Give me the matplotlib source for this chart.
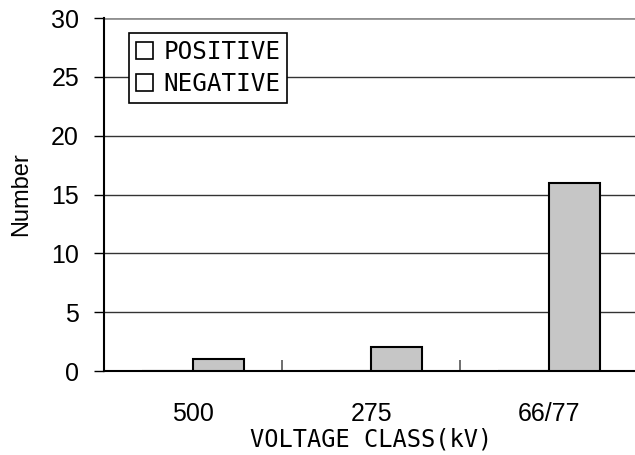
import matplotlib
matplotlib.use("Agg")
import matplotlib.pyplot as plt
import numpy as np

# data
classes = ["500", "275", "66/77"]
positive = [0, 0, 0]
negative = [1, 2, 16]
series_names = ["POSITIVE", "NEGATIVE"]

gothic = "DejaVu Sans Mono"
plt.rcParams["font.family"] = "Liberation Sans"

fig = plt.figure(figsize=(6.35, 4.55), dpi=100)
ax = fig.add_axes([0.1638, 0.1846, 0.8412, 0.7758])

x = np.arange(len(classes))
w = 0.287
ax.bar(x - w, positive, w, align="edge", color="white", edgecolor="black",
       linewidth=1.5, label=series_names[0])
ax.bar(x, negative, w, align="edge", color="#c6c6c6", edgecolor="black",
       linewidth=1.5, label=series_names[1], zorder=3)

ax.set_xlim(-0.5, 2.5)
ax.set_ylim(0, 30)
ax.set_yticks(range(0, 31, 5))
for y in range(5, 26, 5):
    ax.axhline(y, color="#333333", linewidth=1.0, zorder=1)
ax.axhline(30, color="#909090", linewidth=2.0, zorder=1)

ax.set_xticks(x)
ax.set_xticklabels(classes)
ax.set_xticks([0.5, 1.5], minor=True)
ax.tick_params(axis="x", which="major", length=0, pad=22, labelsize=18)
ax.tick_params(axis="x", which="minor", direction="in", length=8,
               width=1.2, color="#555555")
ax.tick_params(axis="y", direction="out", length=7, width=1.0, pad=11,
               labelsize=18)

for s in ["top", "right"]:
    ax.spines[s].set_visible(False)
ax.spines["left"].set_linewidth(1.5)
ax.spines["bottom"].set_linewidth(1.5)

ax.set_ylabel("Number", fontsize=17)
ax.yaxis.set_label_coords(-0.135, 0.5)
ax.set_xlabel("VOLTAGE CLASS(kV)", fontsize=17, family=gothic,
              va="top")
ax.xaxis.set_label_coords(0.5, -0.16)

leg = ax.legend(loc="upper left", bbox_to_anchor=(0.047, 0.957),
                prop={"family": gothic, "size": 17.5}, frameon=True,
                fancybox=False, edgecolor="black", framealpha=1,
                handlelength=0.7, handleheight=0.7, handletextpad=0.4,
                borderpad=0.3, labelspacing=0.3, borderaxespad=0)
leg.get_frame().set_linewidth(1.2)
for h in leg.legend_handles:
    h.set_facecolor("white")
    h.set_edgecolor("black")
    h.set_linewidth(1.2)

fig.savefig("out.png", dpi=100)
